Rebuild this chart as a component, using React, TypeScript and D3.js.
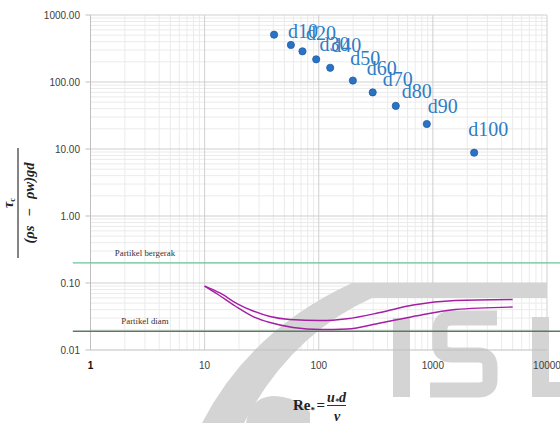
import React, { useEffect, useRef } from "react";
import * as d3 from "d3";

// fraksi sedimen d10..d100
const sizeLabels = ["d10", "d20", "d30", "d40", "d50", "d60", "d70", "d80", "d90", "d100"];
const reValues = [40.6, 57, 72, 95, 126, 199, 297, 473, 885, 2300];
const shieldsValues = [508, 357, 287, 218, 163, 105, 70, 44, 23.6, 8.8];
// label offsets (px) relative to the dot, as placed in the original sheet
const labelDx = [14, 15, 17, 15, 20, 14, 10, 6, 1, -6];
const labelDy = [3.6, -4.5, -0.6, -7.6, -2.7, -5.7, -6, -8, -10.7, -16.7];

// Shields curves
const upperRe = [10, 13.6, 19.2, 26.6, 37.4, 56, 103, 177, 345, 671, 1566, 5000];
const upperTau = [0.09, 0.071, 0.0494, 0.0382, 0.0316, 0.0285, 0.0275, 0.0293, 0.0363, 0.047, 0.0548, 0.0567];
const lowerRe = [10, 13.1, 18.5, 26.6, 37.4, 59.5, 103, 177, 345, 671, 1566, 5000];
const lowerTau = [0.09, 0.0673, 0.0454, 0.0316, 0.0257, 0.0217, 0.0202, 0.0206, 0.0253, 0.0316, 0.0402, 0.0438];

// batas gerak
const thresholdNames = ["Partikel bergerak", "Partikel diam"];
const thresholdValues = [0.2, 0.019];
const thresholdColors = ["#6cc496", "#5b7a5e"];
const thresholdExtent = [0.7, 13000];

const xTicks = [1, 10, 100, 1000, 10000];
const yTicks = [0.01, 0.1, 1, 10, 100, 1000];

const W = 560;
const H = 423;

const App = () => {
  const svgRef = useRef(null);

  useEffect(() => {
    const svg = d3.select(svgRef.current);
    svg.selectAll("*").remove();

    const x = d3.scaleLog().domain([1, 10000]).range([90.5, 547]);
    const y = d3.scaleLog().domain([0.01, 1000]).range([350, 15]);

    const minorX = [];
    [1, 10, 100, 1000].forEach((d) => {
      for (let k = 2; k <= 9; k++) minorX.push(d * k);
    });
    const minorY = [];
    [0.01, 0.1, 1, 10, 100].forEach((d) => {
      for (let k = 2; k <= 9; k++) minorY.push(d * k);
    });

    const grid = svg.append("g");
    grid
      .selectAll(".mx")
      .data(minorX)
      .join("line")
      .attr("x1", (d) => x(d))
      .attr("x2", (d) => x(d))
      .attr("y1", y(1000))
      .attr("y2", y(0.01))
      .attr("stroke", "#ebebeb")
      .attr("stroke-width", 1);
    grid
      .selectAll(".my")
      .data(minorY)
      .join("line")
      .attr("x1", x(1))
      .attr("x2", x(10000))
      .attr("y1", (d) => y(d))
      .attr("y2", (d) => y(d))
      .attr("stroke", "#ebebeb")
      .attr("stroke-width", 1);
    grid
      .selectAll(".Mx")
      .data(xTicks.slice(1))
      .join("line")
      .attr("x1", (d) => x(d))
      .attr("x2", (d) => x(d))
      .attr("y1", y(1000))
      .attr("y2", y(0.01))
      .attr("stroke", "#cfcfcf")
      .attr("stroke-width", 1);
    grid
      .selectAll(".My")
      .data(yTicks.slice(1))
      .join("line")
      .attr("x1", x(1))
      .attr("x2", x(10000))
      .attr("y1", (d) => y(d))
      .attr("y2", (d) => y(d))
      .attr("stroke", "#cfcfcf")
      .attr("stroke-width", 1);

    // watermark
    const wm = svg.append("g").attr("fill", "#d4d4d4");
    wm.append("path").attr(
      "d",
      "M202,423 Q250,330 352,283 L547,283 L547,298 L372,298 Q290,335 244,423 Z"
    );
    wm.append("path").attr("d", "M246,423 Q250,398 272,396 Q295,396 310,412 L310,423 Z");
    wm.append("rect").attr("x", 393).attr("y", 318).attr("width", 17).attr("height", 79);
    wm.append("path")
      .attr(
        "d",
        "M497,318 L452,318 Q440,318 440,330 L440,345 Q440,355 452,355 L478,355 Q490,355 490,367 L490,380 Q490,390 478,390 L430,390"
      )
      .attr("fill", "none")
      .attr("stroke", "#d4d4d4")
      .attr("stroke-width", 15);
    wm.append("rect").attr("x", 532).attr("y", 317).attr("width", 17).attr("height", 80);
    wm.append("rect").attr("x", 532).attr("y", 382).attr("width", 28).attr("height", 15);

    // axes
    svg
      .append("line")
      .attr("x1", x(1))
      .attr("x2", x(1))
      .attr("y1", y(1000))
      .attr("y2", y(0.01))
      .attr("stroke", "#bfbfbf");
    svg
      .append("line")
      .attr("x1", x(1))
      .attr("x2", x(10000))
      .attr("y1", y(0.01))
      .attr("y2", y(0.01))
      .attr("stroke", "#bfbfbf");
    svg
      .append("g")
      .selectAll("line")
      .data(yTicks)
      .join("line")
      .attr("x1", x(1) - 5)
      .attr("x2", x(1))
      .attr("y1", (d) => y(d))
      .attr("y2", (d) => y(d))
      .attr("stroke", "#bfbfbf");

    const fmtY = d3.format(".2f");
    svg
      .append("g")
      .selectAll("text")
      .data(yTicks)
      .join("text")
      .attr("x", 80)
      .attr("y", (d) => y(d) + 3.5)
      .attr("text-anchor", "end")
      .attr("font-family", "Liberation Sans, Arial, sans-serif")
      .attr("font-size", 10)
      .attr("fill", "#404040")
      .text((d) => fmtY(d));

    svg
      .append("g")
      .selectAll("text")
      .data(xTicks)
      .join("text")
      .attr("x", (d) => x(d))
      .attr("y", 369)
      .attr("text-anchor", "middle")
      .attr("font-family", "Liberation Sans, Arial, sans-serif")
      .attr("font-size", 10)
      .attr("font-weight", (d) => (d === 1 ? "bold" : "normal"))
      .attr("fill", (d) => (d === 1 ? "#111" : "#404040"))
      .text((d) => d3.format("d")(d));

    // threshold lines
    thresholdValues.forEach((v, i) => {
      svg
        .append("line")
        .attr("x1", x(thresholdExtent[0]))
        .attr("x2", x(thresholdExtent[1]))
        .attr("y1", y(v))
        .attr("y2", y(v))
        .attr("stroke", thresholdColors[i])
        .attr("stroke-width", 1.4);
      svg
        .append("text")
        .attr("x", x(3))
        .attr("y", y(v) - 7)
        .attr("text-anchor", "middle")
        .attr("font-family", "Liberation Serif, Times New Roman, serif")
        .attr("font-size", 8.8)
        .attr("fill", "#333")
        .text(thresholdNames[i]);
    });

    // Shields curves
    const curve = d3
      .line()
      .x((d) => x(d[0]))
      .y((d) => y(d[1]))
      .curve(d3.curveMonotoneX);
    [
      [upperRe, upperTau],
      [lowerRe, lowerTau],
    ].forEach(([xs, ys]) => {
      svg
        .append("path")
        .datum(xs.map((v, i) => [v, ys[i]]))
        .attr("d", curve)
        .attr("fill", "none")
        .attr("stroke", "#a51fa5")
        .attr("stroke-width", 1.4);
    });

    // data points
    const pts = reValues.map((v, i) => ({ re: v, tau: shieldsValues[i], name: sizeLabels[i], i }));
    svg
      .append("g")
      .selectAll("circle")
      .data(pts)
      .join("circle")
      .attr("cx", (d) => x(d.re))
      .attr("cy", (d) => y(d.tau))
      .attr("r", 3.6)
      .attr("fill", "#2a72c4")
      .attr("stroke", "#1d5ea8")
      .attr("stroke-width", 0.8);
    svg
      .append("g")
      .selectAll("text")
      .data(pts)
      .join("text")
      .attr("x", (d) => x(d.re) + labelDx[d.i])
      .attr("y", (d) => y(d.tau) + labelDy[d.i])
      .attr("font-family", "Liberation Serif, Times New Roman, serif")
      .attr("font-size", 20)
      .attr("fill", "#2f7cc4")
      .text((d) => d.name);

    // y title (rotated fraction)
    const yt = svg
      .append("g")
      .attr("transform", "translate(18,203) rotate(-90)")
      .attr("font-family", "Liberation Serif, Times New Roman, serif")
      .attr("font-weight", "bold")
      .attr("fill", "#222");
    yt.append("line").attr("x1", -55).attr("x2", 55).attr("y1", 0).attr("y2", 0).attr("stroke", "#333").attr("stroke-width", 1.2);
    const num = yt.append("text").attr("x", 0).attr("y", -5).attr("text-anchor", "middle").attr("font-size", 14);
    num.append("tspan").attr("font-style", "italic").text("τ");
    num.append("tspan").attr("font-size", 8).attr("dy", 2).text("c");
    const den = yt
      .append("text")
      .attr("x", 0)
      .attr("y", 16)
      .attr("text-anchor", "middle")
      .attr("font-size", 14.5)
      .attr("font-style", "italic");
    den.append("tspan").text("(ρs");
    den.append("tspan").attr("dx", 9).text("−");
    den.append("tspan").attr("dx", 9).text("ρw)gd");

    // x title
    const xt = svg
      .append("g")
      .attr("font-family", "Liberation Serif, Times New Roman, serif")
      .attr("font-weight", "bold")
      .attr("fill", "#222");
    const re = xt.append("text").attr("x", 293).attr("y", 410).attr("font-size", 15);
    re.append("tspan").text("Re");
    re.append("tspan").attr("font-size", 9).attr("dy", 3).text("*");
    re.append("tspan").attr("dy", -3).attr("dx", 1.5).text("=");
    xt.append("line").attr("x1", 327).attr("x2", 346).attr("y1", 405.5).attr("y2", 405.5).attr("stroke", "#333").attr("stroke-width", 1);
    const nu = xt.append("text").attr("x", 336.5).attr("y", 402).attr("text-anchor", "middle").attr("font-size", 14).attr("font-style", "italic");
    nu.append("tspan").text("u");
    nu.append("tspan").attr("font-size", 8).attr("dy", 2).text("*");
    nu.append("tspan").attr("dy", -2).text("d");
    xt.append("text")
      .attr("x", 337)
      .attr("y", 421)
      .attr("text-anchor", "middle")
      .attr("font-size", 14)
      .attr("font-style", "italic")
      .text("ν");
  }, []);

  return (
    <svg
      ref={svgRef}
      width={W}
      height={H}
      style={{ position: "absolute", left: 0, top: 0, background: "#fff" }}
    ></svg>
  );
};

export default App;
